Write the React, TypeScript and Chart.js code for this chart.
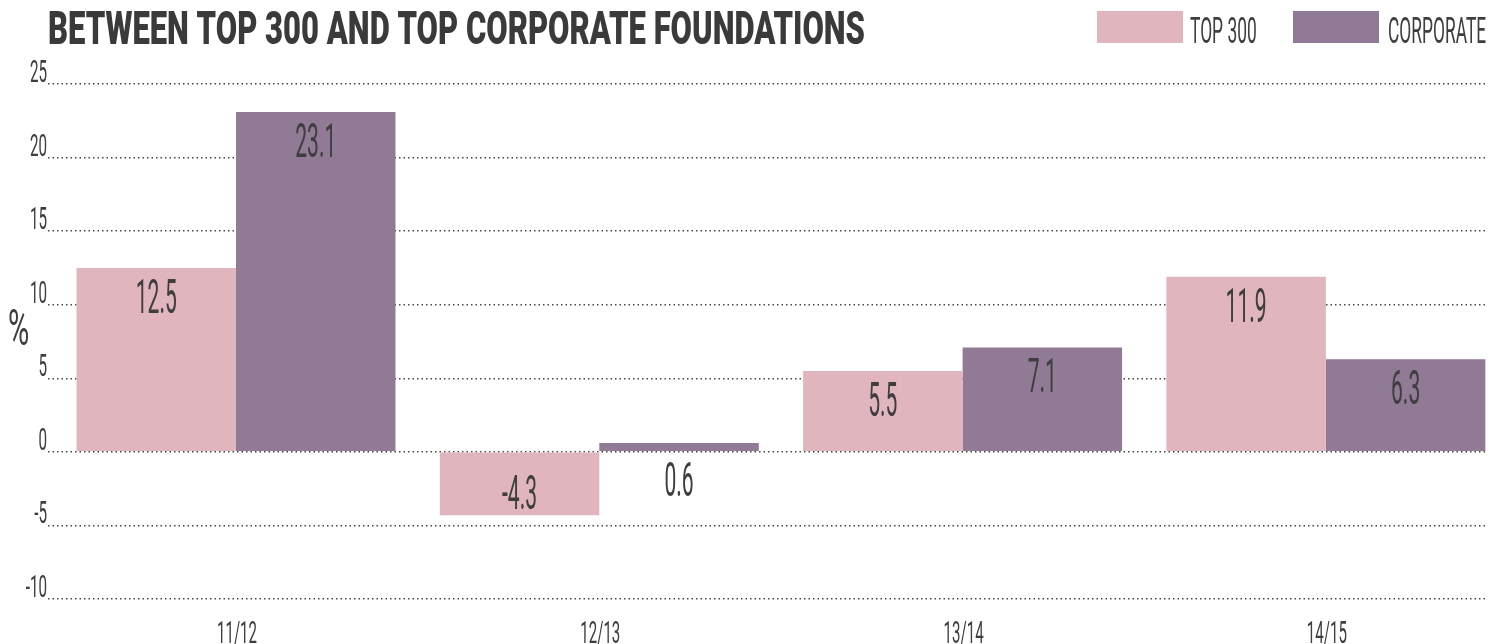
import React, { useEffect, useRef } from 'react';
import { Chart, registerables } from 'chart.js';

Chart.register(...registerables);

// ---- data ----
const categories = ['11/12', '12/13', '13/14', '14/15'];
const seriesNames = ['TOP 300', 'CORPORATE'];
const top300Values = [12.5, -4.3, 5.5, 11.9];
const corporateValues = [23.1, 0.6, 7.1, 6.3];
const yMin = -10;
const yMax = 25;
const yStep = 5;
const titleText = 'BETWEEN TOP 300 AND TOP CORPORATE FOUNDATIONS';
const yAxisText = '%';

// ---- styles ----
const PINK = '#E0B5BD';
const PURPLE = '#917A96';
const TEXT = '#3e3e3e';
const FONT = 'Roboto, "Liberation Sans", sans-serif';

function drawText(
  ctx: CanvasRenderingContext2D,
  text: string,
  x: number,
  y: number,
  size: number,
  weight: number,
  sx: number,
  align: CanvasTextAlign,
  color: string = TEXT
) {
  ctx.save();
  ctx.font = `${weight} ${size}px ${FONT}`;
  ctx.fillStyle = color;
  ctx.textBaseline = 'alphabetic';
  ctx.textAlign = align;
  ctx.translate(x, y);
  ctx.scale(sx, 1);
  ctx.fillText(text, 0, 0);
  ctx.restore();
}

const textPlugin = {
  id: 'textPlugin',
  afterDraw(chart: any) {
    const ctx: CanvasRenderingContext2D = chart.ctx;
    const xs = chart.scales.x;
    const ys = chart.scales.y;
    const area = chart.chartArea;

    // title
    ctx.save();
    ctx.font = `900 47px ${FONT}`;
    const tw = ctx.measureText(titleText).width;
    ctx.restore();
    drawText(ctx, titleText, 48, 44, 47, 900, 817 / tw, 'left', '#3a3a3a');

    // legend
    const ds = chart.data.datasets;
    const legendItems = [
      { box: 1097, text: 1190 },
      { box: 1293, text: 1388 },
    ];
    ds.forEach((d: any, i: number) => {
      const it = legendItems[i];
      ctx.fillStyle = d.backgroundColor;
      ctx.fillRect(it.box, 11, 86, 32);
      drawText(ctx, d.label, it.text, 43, 37, 400, 0.47, 'left');
    });

    // y tick labels
    ys.ticks.forEach((t: any) => {
      const py = ys.getPixelForValue(t.value);
      drawText(ctx, String(t.value), area.left - 1, py - 2, 31, 400, 0.49, 'right');
    });

    // y axis label
    drawText(ctx, yAxisText, 18.5, 345, 50, 400, 0.58, 'center');

    // x labels
    categories.forEach((c, i) => {
      const px = xs.getPixelForValue(i);
      drawText(ctx, c, px + 1, 643, 32, 400, 0.47, 'center');
    });

    // data labels
    ds.forEach((d: any, di: number) => {
      const meta = chart.getDatasetMeta(di);
      meta.data.forEach((el: any, j: number) => {
        const v = d.data[j].y;
        let baseline: number;
        if (v >= 0) {
          const h = el.base - el.y;
          const capTop = h > 60 ? el.y + 10 : el.base + 10;
          baseline = capTop + 35;
        } else {
          baseline = el.y - 6;
        }
        drawText(ctx, v.toFixed(1), el.x, baseline, 49, 400, 0.43, 'center');
      });
    });
  },
};

export default function App() {
  const ref = useRef<HTMLCanvasElement | null>(null);

  useEffect(() => {
    if (!ref.current) return;
    const chart = new Chart(ref.current, {
      type: 'bar',
      data: {
        datasets: [
          {
            label: seriesNames[0],
            data: top300Values.map((v, i) => ({ x: i, y: v })),
            backgroundColor: PINK,
            borderWidth: 0,
          },
          {
            label: seriesNames[1],
            data: corporateValues.map((v, i) => ({ x: i, y: v })),
            backgroundColor: PURPLE,
            borderWidth: 0,
          },
        ],
      },
      options: {
        animation: false,
        responsive: true,
        maintainAspectRatio: false,
        layout: { padding: { left: 48, right: 15, top: 84, bottom: 45 } },
        datasets: {
          bar: { categoryPercentage: 0.878, barPercentage: 1 },
        },
        plugins: {
          legend: { display: false },
          title: { display: false },
          tooltip: { enabled: false },
        },
        scales: {
          x: {
            type: 'linear',
            min: -0.5175,
            max: 3.4435,
            offset: false,
            display: false,
            ticks: { stepSize: 1, includeBounds: false },
            grid: { display: false },
          },
          y: {
            min: yMin,
            max: yMax,
            ticks: { stepSize: yStep, display: false },
            grid: { color: '#444444', lineWidth: 1.5, drawTicks: false },
            border: { display: false, dash: [1.5, 3] },
          },
        },
      },
      plugins: [textPlugin],
    } as any);
    return () => chart.destroy();
  }, []);

  return (
    <div style={{ position: 'fixed', left: 0, top: 0, width: 1502, height: 644 }}>
      <canvas ref={ref} />
    </div>
  );
}
